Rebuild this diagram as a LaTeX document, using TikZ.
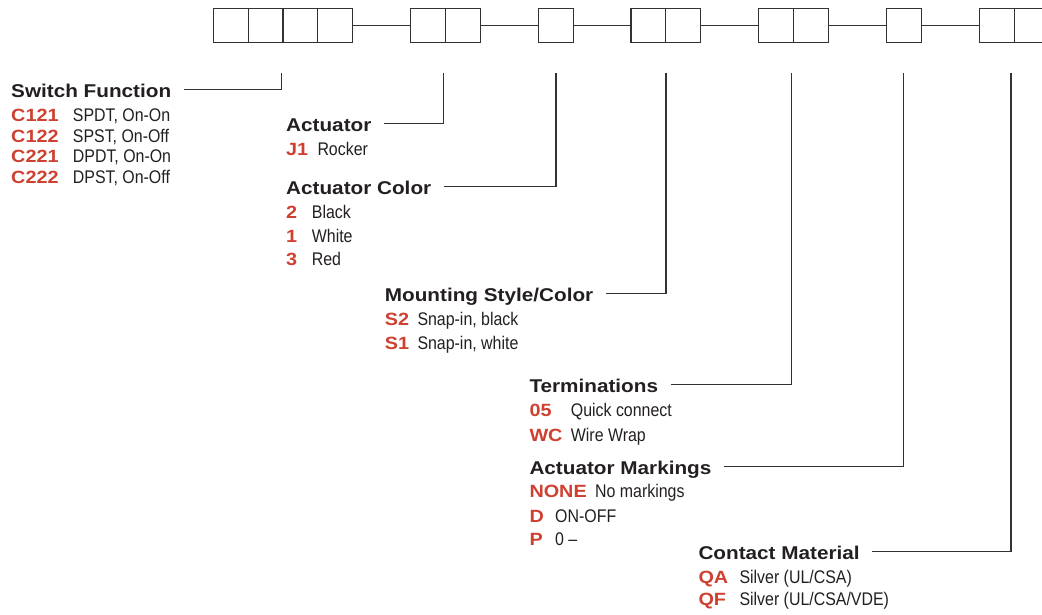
\documentclass[tikz,border=0pt]{standalone}
\usepackage{fontspec}
\setmainfont{Liberation Sans}
\newfontfamily\bdfont[FakeStretch=1.12]{Liberation Sans Bold}
\newfontfamily\rgfont[FakeStretch=0.87]{Liberation Sans}
\definecolor{codered}{RGB}{206,64,48}
\definecolor{ink}{RGB}{35,31,32}
\definecolor{rulec}{RGB}{50,50,50}
\newcommand\code[2]{\makebox[#1][l]{\bdfont\fontsize{17.7}{20}\selectfont\color{codered}#2}}
\tikzset{
  cell/.style={draw=rulec, line width=1.2pt, minimum width=34.85pt, minimum height=34.4pt, inner sep=0pt, outer sep=0pt},
  link/.style={draw=rulec, line width=1.1pt},
  head/.style={anchor=base west, inner sep=0pt, text height=16pt, text depth=0pt, text=ink, font=\bdfont\fontsize{18.5}{20}\selectfont},
  opt/.style={anchor=base west, inner sep=0pt, text=ink, font=\rgfont\fontsize{18.3}{20}\selectfont},
}
\begin{document}
\begin{tikzpicture}[x=1pt,y=-1pt]
\useasboundingbox (0,0) rectangle (1042,614);
\clip (0,0) rectangle (1042,614);
% code boxes
\node[cell] (a1) at (230.7,25.5) {};
\node[cell] (a2) at (265.6,25.5) {};
\node[cell] (a3) at (300.4,25.5) {};
\node[cell] (a4) at (335.3,25.5) {};
\node[cell] (b1) at (428.2,25.5) {};
\node[cell] (b2) at (463.0,25.5) {};
\node[cell] (c1) at (555.7,25.5) {};
\node[cell] (e1) at (648.4,25.5) {};
\node[cell] (e2) at (683.3,25.5) {};
\node[cell] (f1) at (776.1,25.5) {};
\node[cell] (f2) at (811.0,25.5) {};
\node[cell] (g1) at (904.1,25.5) {};
\node[cell] (h1) at (996.7,25.5) {};
\node[cell] (h2) at (1031.6,25.5) {};
\draw[link] (a4.east) -- (b1.west);
\draw[link] (b2.east) -- (c1.west);
\draw[link] (c1.east) -- (e1.west);
\draw[link] (e2.east) -- (f1.west);
\draw[link] (f2.east) -- (g1.west);
\draw[link] (g1.east) -- (h1.west);
% drop points
\coordinate (d1) at (281.7,72.5);
\coordinate (d2) at (443.3,72.5);
\coordinate (d3) at (556,72.5);
\coordinate (d4) at (666,72.5);
\coordinate (d5) at (791.7,72.5);
\coordinate (d6) at (903.3,72.5);
\coordinate (d7) at (1011,72.5);
% Switch Function
\node[head] (sf) at (11,97.3) {Switch Function};
\node[opt] (sf1) at (11,121.7) {\code{61.7pt}{C121}SPDT, On-On};
\node[opt] (sf2) at (11,142.3) {\code{61.7pt}{C122}SPST, On-Off};
\node[opt] (sf3) at (11,162.9) {\code{61.7pt}{C221}DPDT, On-On};
\node[opt] (sf4) at (11,183.5) {\code{61.7pt}{C222}DPST, On-Off};
% Actuator
\node[head] (ac) at (286,131.7) {Actuator};
\node[opt] (ac1) at (286,155) {\code{31.3pt}{J1}Rocker};
% Actuator Color
\node[head] (cl) at (286,194.3) {Actuator Color};
\node[opt] (cl1) at (286,218.5) {\code{25.7pt}{2}Black};
\node[opt] (cl2) at (286,242.2) {\code{25.7pt}{1}White};
\node[opt] (cl3) at (286,265.9) {\code{25.7pt}{3}Red};
% Mounting
\node[head] (ms) at (384.7,301.7) {Mounting Style/Color};
\node[opt] (ms1) at (384.7,325) {\code{32.6pt}{S2}Snap-in, black};
\node[opt] (ms2) at (384.7,349.3) {\code{32.6pt}{S1}Snap-in, white};
% Terminations
\node[head] (tm) at (529.3,392.3) {Terminations};
\node[opt] (tm1) at (529.3,416) {\code{41.4pt}{05}Quick connect};
\node[opt] (tm2) at (529.3,441.7) {\code{41.4pt}{WC}Wire Wrap};
% Actuator Markings
\node[head] (mk) at (529.3,474.3) {Actuator Markings};
\node[opt] (mk1) at (529.3,497.7) {\code{65.7pt}{NONE}No markings};
\node[opt] (mk2) at (529.3,522.3) {\code{25.7pt}{D}ON-OFF};
\node[opt] (mk3) at (529.3,545) {\code{25.7pt}{P}0 –};
% Contact Material
\node[head] (cm) at (698.3,559.3) {Contact Material};
\node[opt] (cm1) at (698.3,583.3) {\code{41pt}{QA}Silver (UL/CSA)};
\node[opt] (cm2) at (698.3,605) {\code{41pt}{QF}Silver (UL/CSA/VDE)};
% leaders
\draw[link] ([xshift=12.5pt]sf.east) -- (sf.east -| d1) -- (d1);
\draw[link] ([xshift=12.5pt]ac.east) -- (ac.east -| d2) -- (d2);
\draw[link] ([xshift=12.5pt]cl.east) -- (cl.east -| d3) -- (d3);
\draw[link] ([xshift=12.5pt]ms.east) -- (ms.east -| d4) -- (d4);
\draw[link] ([xshift=12.5pt]tm.east) -- (tm.east -| d5) -- (d5);
\draw[link] ([xshift=12.5pt]mk.east) -- (mk.east -| d6) -- (d6);
\draw[link] ([xshift=12.5pt]cm.east) -- (cm.east -| d7) -- (d7);
\end{tikzpicture}
\end{document}
